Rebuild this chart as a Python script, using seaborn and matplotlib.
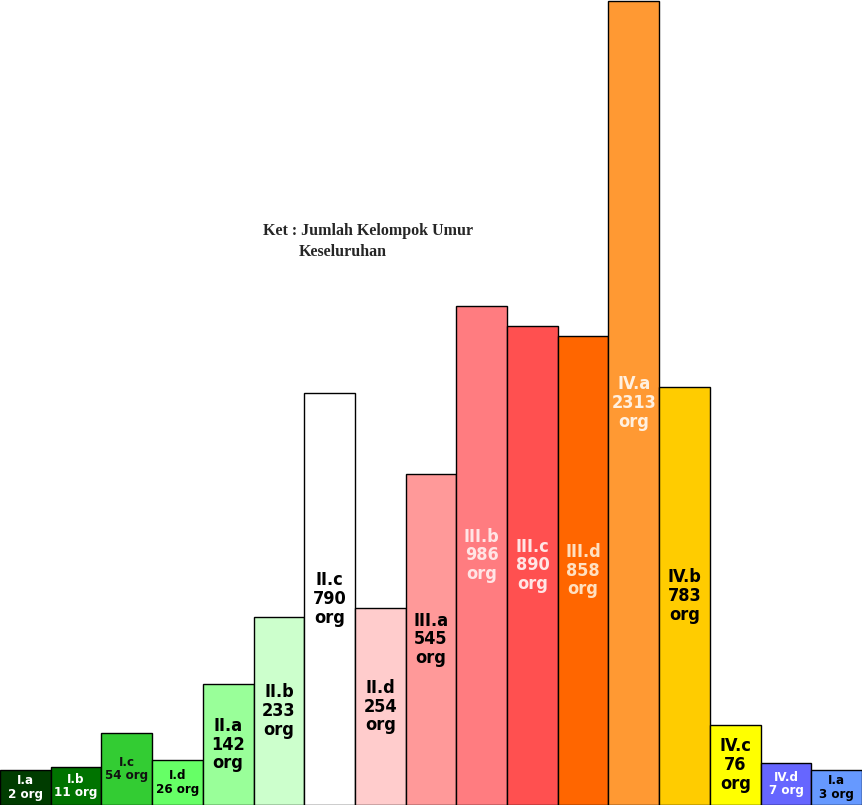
import numpy as np
import seaborn as sns
import matplotlib.pyplot as plt

# kelompok umur, jumlah orang, tinggi batang
groups = ["I.a", "I.b", "I.c", "I.d", "II.a", "II.b", "II.c", "II.d", "III.a",
          "III.b", "III.c", "III.d", "IV.a", "IV.b", "IV.c", "IV.d", "I.a"]
counts = [2, 11, 54, 26, 142, 233, 790, 254, 545, 986, 890, 858, 2313, 783, 76, 7, 3]
heights = [35, 38, 72, 45, 121, 188, 412, 197, 331, 499, 479, 469, 804, 418, 80, 42, 35]

bar_colors = ["#003c00", "#007300", "#33cc33", "#66ff66", "#99ff99", "#ccffcc",
              "#ffffff", "#ffcccc", "#ff9999", "#ff7c80", "#ff5050", "#ff6600",
              "#ff9933", "#ffcc00", "#ffff00", "#6666ff", "#6699ff"]
text_colors = ["white", "white", "#111111", "black", "black", "black", "black",
               "black", "black", "#ffe5e5", "#ffe5e5", "#ffe0c0", "#fff0e0",
               "black", "black", "white", "black"]

sns.set_style("white")
plt.rcParams["font.family"] = ["DejaVu Sans"]

fig = plt.figure(figsize=(8.64, 8.07), dpi=100)
ax = fig.add_axes([0, 2 / 807, 862 / 864, 805 / 807])

idx = np.arange(len(groups))
sns.barplot(x=idx, y=heights, hue=idx, palette=bar_colors, legend=False,
            width=1, edgecolor="black", linewidth=1, saturation=1, ax=ax)

ax.set_xlim(-0.5, len(groups) - 0.5)
ax.set_ylim(0, 805)
ax.axis("off")

# label di tengah batang
for i, (g, c, h) in enumerate(zip(groups, counts, heights)):
    if h < 75:
        txt, fs = f"{g}\n{c} org", 9.5
    else:
        txt, fs = f"{g}\n{c}\norg", 13
    ax.text(i, h / 2, txt, ha="center", va="center", fontsize=fs,
            fontweight="bold", fontstretch="condensed",
            color=text_colors[i], linespacing=1.05)

fig.text(263 / 864, 1 - 231 / 807, "Ket : Jumlah Kelompok Umur", ha="left",
         va="center", fontsize=11.5, fontweight="bold", family="Liberation Serif")
fig.text(299 / 864, 1 - 252 / 807, "Keseluruhan", ha="left", va="center",
         fontsize=11.5, fontweight="bold", family="Liberation Serif")

fig.savefig("out.png", dpi=100)
